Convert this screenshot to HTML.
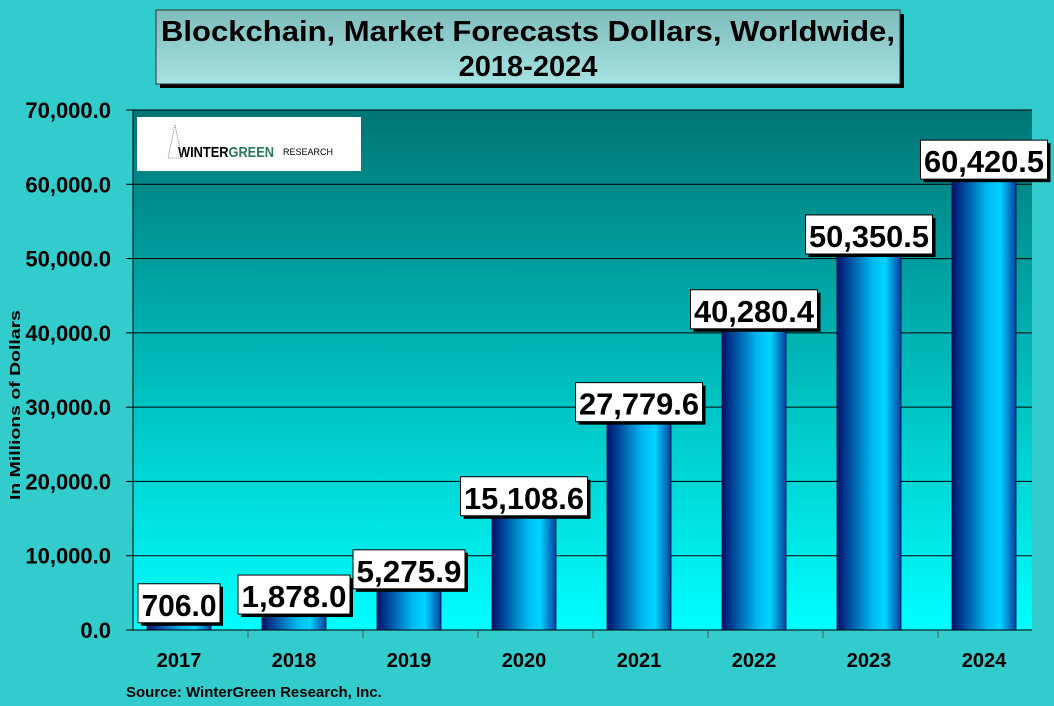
<!DOCTYPE html>
<html><head><meta charset="utf-8"><style>
body{margin:0;background:#33cccc;font-family:"Liberation Sans",Arial,sans-serif}
</style></head><body>
<svg width="1054" height="706" viewBox="0 0 1054 706" xmlns="http://www.w3.org/2000/svg" style="display:block">
<defs>
<linearGradient id="plotbg" x1="0" y1="0" x2="0" y2="1"><stop offset="0" stop-color="#007575"/><stop offset="1" stop-color="#00ffff"/></linearGradient>
<linearGradient id="titlebg" x1="0" y1="0" x2="0" y2="1"><stop offset="0" stop-color="#7fbcbc"/><stop offset="1" stop-color="#a6e2e2"/></linearGradient>
<linearGradient id="bar" x1="0" y1="0" x2="1" y2="0"><stop offset="0" stop-color="#00106e"/><stop offset="0.55" stop-color="#00b8f0"/><stop offset="0.75" stop-color="#00d4ff"/><stop offset="1" stop-color="#0040a0"/></linearGradient>
</defs>
<rect x="160" y="14" width="744" height="74" fill="#000"/>
<rect x="156" y="10" width="744" height="74" fill="url(#titlebg)" stroke="#333"/>
<text x="528" y="41" text-anchor="middle" font-size="29" font-weight="bold" textLength="734" lengthAdjust="spacingAndGlyphs">Blockchain, Market Forecasts Dollars, Worldwide,</text>
<text x="528" y="76" text-anchor="middle" font-size="29" font-weight="bold">2018-2024</text>
<rect x="133" y="110" width="899" height="520" fill="url(#plotbg)"/>
<g id="grid"></g>
<rect x="137" y="117" width="224" height="54" fill="#fff"/>
<text x="178" y="157" font-size="15" font-weight="bold" textLength="96" lengthAdjust="spacingAndGlyphs"><tspan fill="#000">WINTER</tspan><tspan fill="#2a7a5a">GREEN</tspan></text>
<text x="283" y="155" font-size="9">RESEARCH</text>
<path d="M175 125 L168 158 L182 158 Z" fill="none" stroke="#888" stroke-dasharray="1 1"/>
<g id="bars"></g>
<line x1="133" y1="110" x2="133" y2="630" stroke="#000"/>
<line x1="133" y1="630" x2="1032" y2="630" stroke="#000"/>
<text transform="translate(20,405) rotate(-90)" text-anchor="middle" font-size="15" font-weight="bold" textLength="190" lengthAdjust="spacingAndGlyphs">In Millions of Dollars</text>
<text x="126" y="697" font-size="15" font-weight="bold">Source: WinterGreen Research, Inc.</text>
</svg>
<script>
const categories=["2017","2018","2019","2020","2021","2022","2023","2024"];
const values=[706.0,1878.0,5275.9,15108.6,27779.6,40280.4,50350.5,60420.5];
const labels=["706.0","1,878.0","5,275.9","15,108.6","27,779.6","40,280.4","50,350.5","60,420.5"];
const yTicks=[0,10000,20000,30000,40000,50000,60000,70000];
const yTickLabels=["0.0","10,000.0","20,000.0","30,000.0","40,000.0","50,000.0","60,000.0","70,000.0"];
const NS="http://www.w3.org/2000/svg";
const y=v=>630-v/70000*520;
const xc=i=>179+i*115;
function mk(t,a,p){const e=document.createElementNS(NS,t);for(const k in a)e.setAttribute(k,a[k]);p.appendChild(e);return e;}
const grid=document.getElementById('grid'),bars=document.getElementById('bars'),svg=document.querySelector('svg');
yTicks.forEach((v,i)=>{
 if(v>0){const l=mk('line',{x1:133,x2:1032,y1:y(v),y2:y(v),stroke:'#000','stroke-width':1},grid);
 
 }
 const tk=mk('line',{x1:126,x2:133,y1:y(v),y2:y(v),stroke:'#000'},svg);
 
 
 const t=mk('text',{x:111,y:y(v)+8,'text-anchor':'end','font-size':22,'font-weight':'bold'},svg);
 t.textContent=yTickLabels[i];
 
 
});
categories.forEach((c,i)=>{
 const top=y(values[i]);
 const b=mk('rect',{x:xc(i)-32,y:top,width:64,height:630-top,fill:'url(#bar)',stroke:'#003','stroke-width':0.8},bars);
 
 
 const tl=labels[i].length*15;
 const w=tl+7;
 const by=top-41;
 const sh=mk('rect',{x:xc(i)-w/2+3,y:by+3,width:w,height:39,fill:'#000'},bars);
 
 
 const bx=mk('rect',{x:xc(i)-w/2,y:by,width:w,height:39,fill:'#fff',stroke:'#000'},bars);
 
 
 const t=mk('text',{x:xc(i),y:by+32,'text-anchor':'middle','font-size':31,'font-weight':'bold',textLength:tl,lengthAdjust:'spacingAndGlyphs'},bars);
 t.textContent=labels[i];
 
 
 const xl=mk('text',{x:xc(i),y:667,'text-anchor':'middle','font-size':20,'font-weight':'bold'},svg);
 xl.textContent=c;
 
 
 if(i>0){const tk=mk('line',{x1:xc(i)-46,x2:xc(i)-46,y1:630,y2:638,stroke:'#555'},svg);
 
 }
});
</script>
</body></html>
